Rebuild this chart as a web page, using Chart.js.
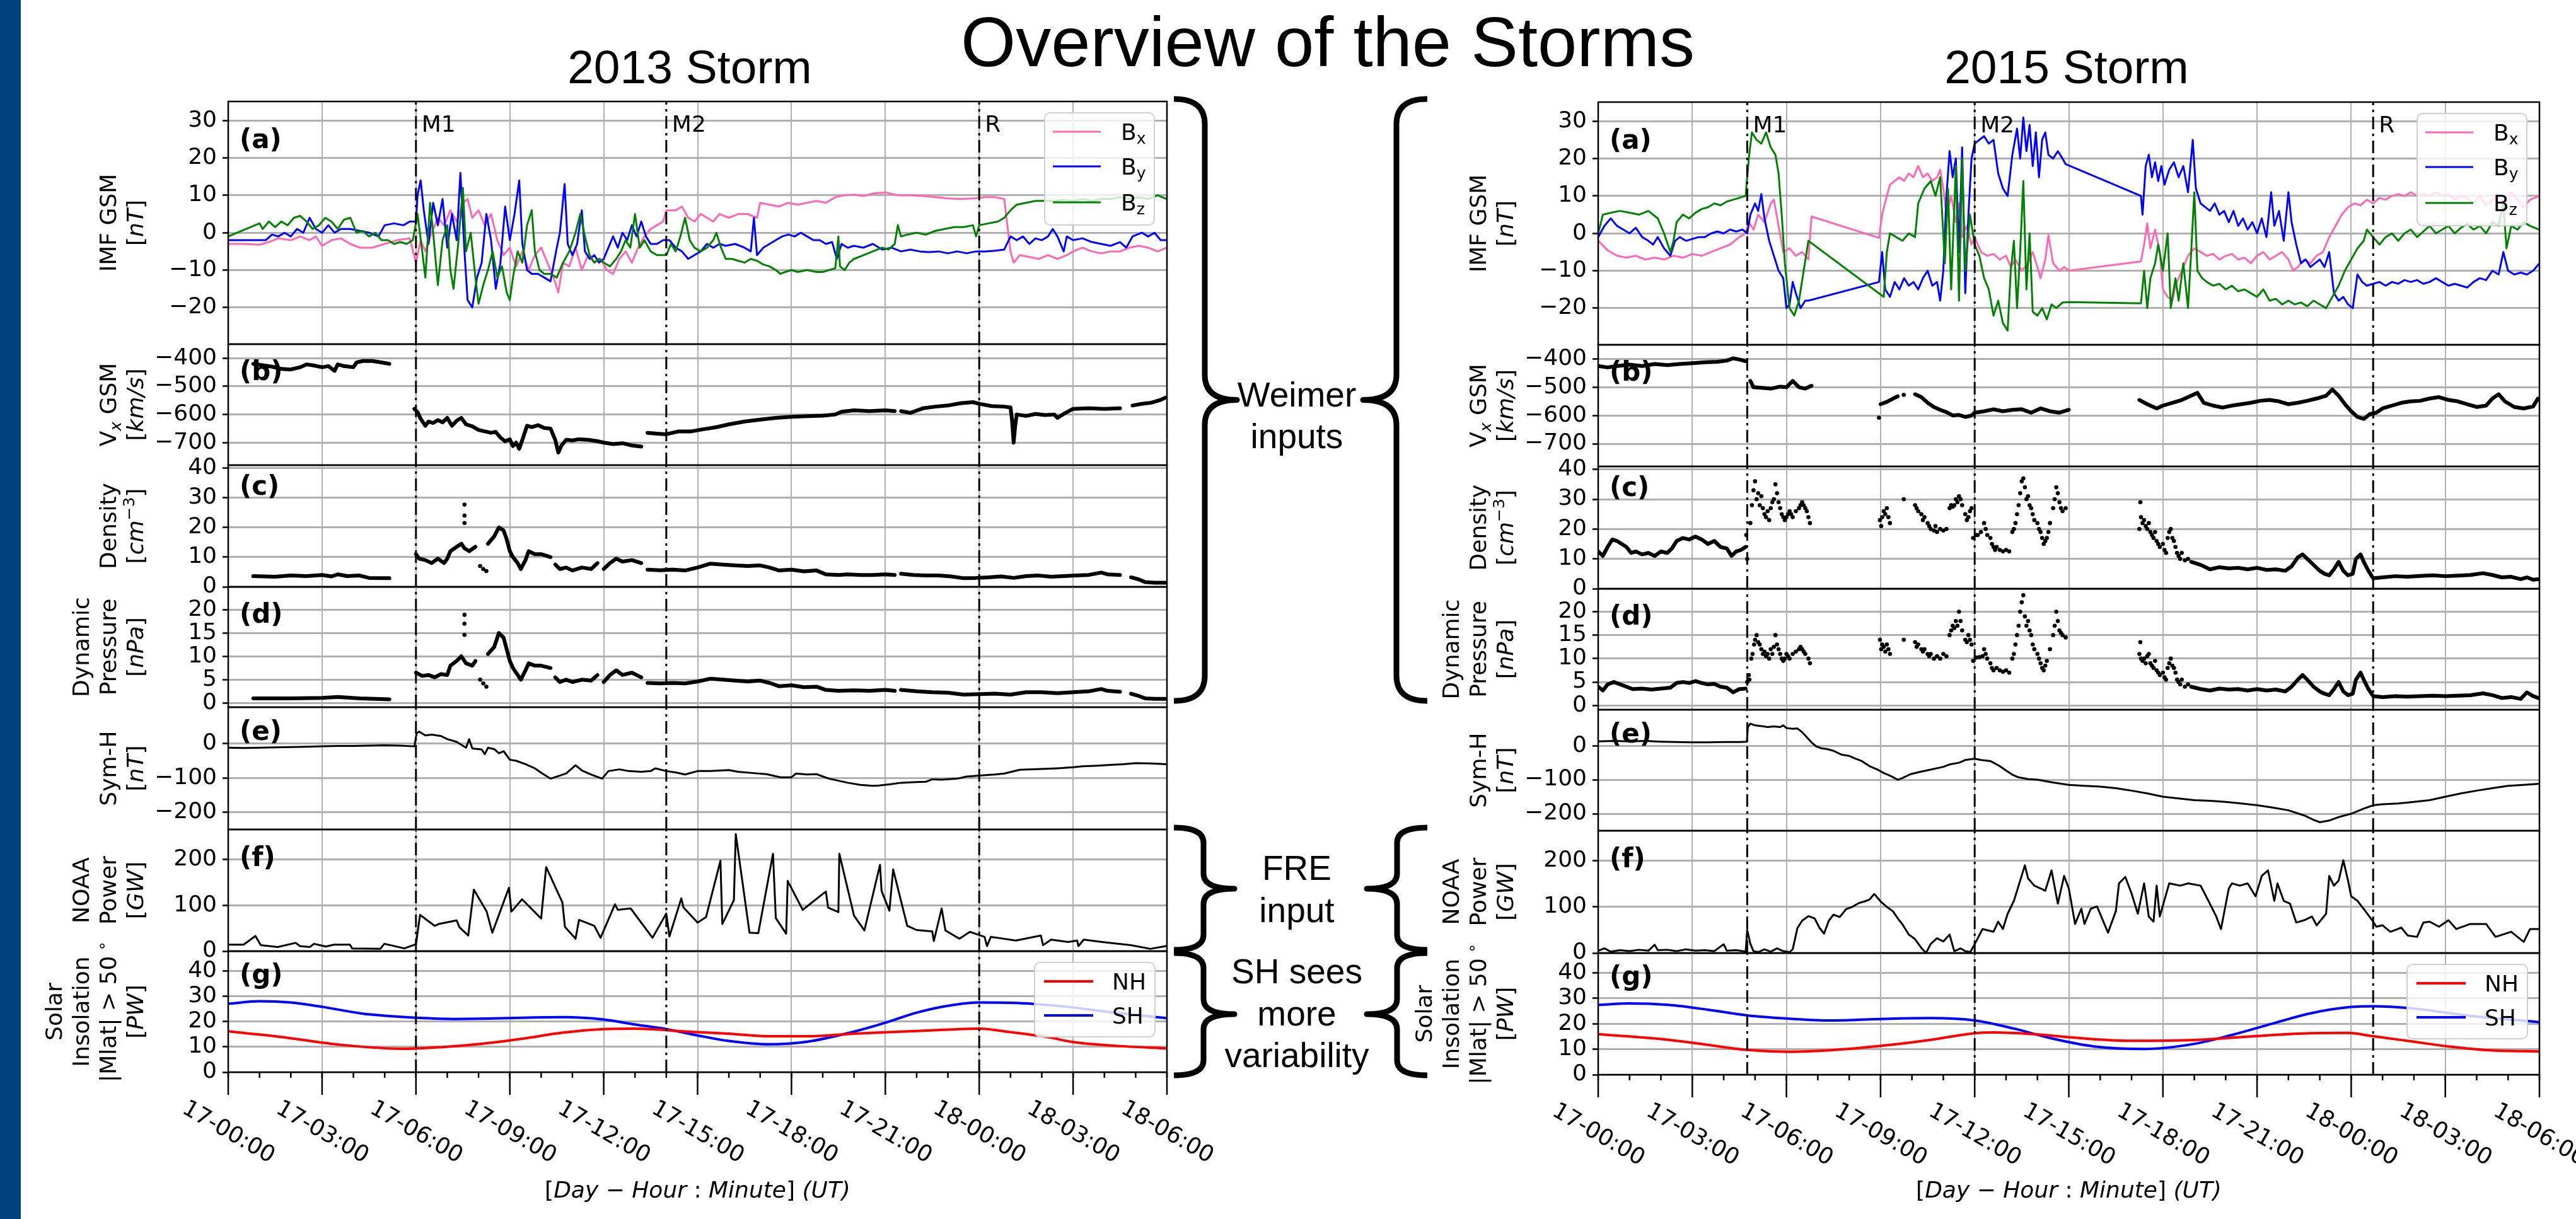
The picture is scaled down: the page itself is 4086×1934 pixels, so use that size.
<!DOCTYPE html>
<html>
<head>
<meta charset="utf-8">
<script src="https://cdn.jsdelivr.net/npm/chart.js@4.4.1/dist/chart.umd.min.js"></script>
<style>
  body { margin: 0; background: #fff; }
  #fig { position: relative; width: 4086px; height: 1934px; overflow: hidden; background: #fff; }
  #fig canvas { position: absolute; }
  #strip { position: absolute; left: 0; top: 0; width: 33px; height: 1934px; background: #00417f; }
  #ov { position: absolute; left: 0; top: 0; width: 4086px; height: 1934px; z-index: 5; }
</style>
</head>
<body>
<div id="fig">
  <div id="strip"></div>
  <svg id="ov" xmlns="http://www.w3.org/2000/svg" width="4086" height="1934"></svg>
</div>
<script>
// ---------- AXES / TICKS ----------
const xTickHours = [0, 3, 6, 9, 12, 15, 18, 21, 24, 27, 30];
const xTickLabels = ["17-00:00", "17-03:00", "17-06:00", "17-09:00", "17-12:00", "17-15:00",
  "17-18:00", "17-21:00", "18-00:00", "18-03:00", "18-06:00"];
const eventNames = ["M1", "M2", "R"];
const events13 = [6, 14, 24];
const events15 = [4.75, 12, 24.7];

const imfTicks = [-20, -10, 0, 10, 20, 30];
const vxTicks = [-700, -600, -500, -400];
const densTicks = [0, 10, 20, 30, 40];
const pdynTicks = [0, 5, 10, 15, 20];
const symhTicks = [-200, -100, 0];
const noaaTicks = [0, 100, 200];
const insolTicks = [0, 10, 20, 30, 40];

const imfRange = [-29.8, 35.1];
const vxRange = [-780, -350];
const densRange = [0, 41];
const pdynRange = [-0.9, 24.9];
const symhRange = [-250, 106];
const noaaRange = [0, 265];
const insolRange = [0, 47.8];

// ---------- 2013 STORM (hours after 17-00:00) ----------
const bx13 = [[0,-3],[0.5,-3],[1,-3.2],[1.3,-2.5],[1.6,-1.5],[2,-2],[2.3,-1],[2.6,-2],[2.8,-1],[3,-3.5],[3.3,-2],[3.6,-1.5],[3.9,-3],[4.2,-4],[4.6,-4],[5,-3],[5.4,-2],[5.8,-1.5],[6,-8],[6.15,-2],[6.3,-5],[6.5,0],[6.7,4],[6.9,2],[7.1,6],[7.3,3],[7.5,8],[7.65,9],[7.8,4],[8,6],[8.2,2],[8.4,5],[8.6,-2],[8.8,-6],[9,-4],[9.2,-9],[9.4,-5],[9.6,-10],[9.8,-6],[10,-4],[10.2,-8],[10.4,-12],[10.55,-16],[10.7,-8],[10.9,-9],[11.1,-4],[11.3,-10],[11.5,-6],[11.7,-8],[11.9,-7],[12.1,-10],[12.3,-11],[12.5,-7],[12.7,-5],[12.9,-8],[13.1,-4],[13.3,-1],[13.5,1],[13.7,2],[13.9,3],[14,6],[14.3,6],[14.5,7],[14.7,4],[14.9,3],[15.1,5],[15.3,4],[15.5,3],[15.7,5],[16,4],[16.3,5],[16.6,5],[16.9,4],[17,8],[17.3,7.5],[17.6,7],[17.9,8],[18.2,7.5],[18.5,8],[18.8,8.5],[19.1,8],[19.4,9.5],[19.7,10],[20,10.2],[20.3,9.8],[20.6,10.5],[21,10.8],[21.4,10],[21.8,10],[22.2,9.8],[22.6,9.5],[23,9.2],[23.4,9],[23.8,9.2],[24.2,9.5],[24.5,9.5],[24.8,9],[25,-5],[25.1,-8],[25.3,-6],[25.6,-6.5],[25.9,-7],[26.2,-6],[26.5,-7],[26.8,-6],[27,-5],[27.3,-4],[27.6,-5],[27.9,-5.5],[28.2,-5],[28.5,-5],[28.8,-4],[29.1,-3.5],[29.4,-4],[29.7,-5],[30,-4]];
const by13 = [[0,-2],[0.5,-2],[1,-2],[1.2,-2],[1.4,-0.5],[1.6,-1],[1.8,0],[2,-1],[2.2,1],[2.4,0],[2.6,4],[2.8,1],[3,0],[3.2,2],[3.4,0],[3.6,1],[3.9,1],[4.2,0.5],[4.5,0],[4.8,-1],[5,2],[5.3,2.5],[5.6,2],[5.8,3],[6,3],[6.05,10],[6.15,14],[6.25,6],[6.4,-3],[6.55,8],[6.7,2],[6.85,9],[7,-4],[7.15,5],[7.3,-2],[7.42,16],[7.55,-5],[7.65,-18],[7.8,-20],[7.95,-12],[8.1,-8],[8.25,5],[8.4,-2],[8.55,-15],[8.7,-8],[8.85,7],[9,-2],[9.15,5],[9.3,14],[9.4,-3],[9.55,-10],[9.7,-11],[9.9,-11],[10.1,-12],[10.3,-13],[10.5,-4],[10.6,0],[10.75,13],[10.85,-3],[11,-6],[11.15,-3],[11.3,6],[11.4,-5],[11.55,-7],[11.7,-6],[11.85,-8],[12,-7],[12.15,-4],[12.3,-1],[12.45,-4],[12.6,0],[12.75,-2],[12.9,2],[13.05,-1],[13.2,3],[13.35,-1],[13.5,-3],[13.7,-3],[13.9,-2],[14.1,-2],[14.3,-4],[14.5,-5],[14.7,-7],[14.9,-6],[15.1,-5],[15.3,-3],[15.5,-4],[15.7,-3],[15.9,-3.5],[16.2,-3],[16.5,-4],[16.7,-5],[16.8,4],[16.9,-6],[17.1,-4],[17.3,-3],[17.5,-2],[17.7,-1],[17.9,-0.5],[18.1,-1],[18.3,0],[18.5,-1],[18.7,-2],[18.9,-2],[19.1,-3],[19.3,-2.5],[19.45,-7],[19.6,-3],[19.8,-4],[20,-3.5],[20.3,-4],[20.6,-3],[20.9,-4.5],[21.2,-4],[21.5,-5],[21.8,-4.5],[22.1,-5],[22.4,-5.2],[22.7,-5],[23,-5.5],[23.3,-5],[23.6,-5.5],[23.9,-5],[24.2,-5],[24.5,-4.8],[24.8,-4.5],[25,-1],[25.2,-2],[25.4,-1],[25.6,-3],[25.8,-1.5],[26,-2],[26.2,-1],[26.35,1],[26.5,-1],[26.7,-5],[26.8,-1],[27,-2],[27.3,-1.5],[27.6,-2.5],[27.9,-3],[28.2,-3.5],[28.5,-2.5],[28.7,-4],[28.9,-1],[29.2,0],[29.4,-1],[29.6,0],[29.8,-2],[30,-2]];
const bz13 = [[0,-1],[1,2.5],[1.1,1],[1.3,3],[1.5,1.5],[1.7,3],[1.9,2],[2.1,4],[2.3,4.5],[2.5,3],[2.7,1],[2.9,2],[3.1,4],[3.3,3],[3.5,1],[3.7,3.5],[3.9,4],[4.1,0],[4.3,0.5],[4.5,-1],[4.7,0],[4.9,-2],[5.1,-2],[5.3,-3],[5.5,-2.5],[5.7,-3],[5.9,-2],[6.05,5],[6.2,-5],[6.3,-12],[6.45,8],[6.55,0],[6.7,-14],[6.85,-2],[7,2],[7.1,-10],[7.2,-15],[7.35,-3],[7.5,12],[7.6,-5],[7.75,0],[7.9,-12],[8,-19],[8.15,-14],[8.3,-10],[8.45,-5],[8.6,-12],[8.75,-9],[8.9,-16],[9,-18],[9.1,-12],[9.25,-5],[9.4,-8],[9.55,2],[9.7,6],[9.8,-5],[9.95,-10],[10.1,-11],[10.3,-11],[10.5,-12],[10.7,-8],[10.9,-5],[11.1,0],[11.25,5],[11.4,-1],[11.55,-6],[11.7,-8],[11.85,-7],[12,-8],[12.2,-9],[12.4,-7],[12.55,-5],[12.7,-2],[12.85,-4],[13,5],[13.15,-4],[13.3,-2],[13.5,-5],[13.7,-6],[13.9,-6],[14,-6],[14.15,-3],[14.3,-5],[14.45,-1],[14.6,4],[14.75,-2],[14.9,-4],[15.1,-5],[15.3,-4],[15.5,-2],[15.6,0],[15.75,-4],[15.9,-7],[16.1,-7],[16.3,-7.5],[16.5,-8],[16.7,-7],[16.9,-7.5],[17.1,-8.5],[17.3,-9],[17.5,-10],[17.65,-11],[17.8,-10.5],[18,-10],[18.2,-10.5],[18.5,-10],[18.8,-10.5],[19,-10.5],[19.2,-10],[19.4,-9.5],[19.5,-1],[19.55,-9],[19.7,-10],[19.85,-8],[20,-7],[20.3,-6],[20.6,-5],[20.9,-4],[21.1,-4.5],[21.3,-3],[21.4,2],[21.5,-1],[21.7,-0.5],[22,0],[22.3,-0.5],[22.6,0.5],[22.9,1],[23.2,1.5],[23.5,1.5],[23.8,2],[23.9,-1],[24,2],[24.3,2.5],[24.6,3],[24.8,4],[25,6],[25.2,7.5],[25.5,8],[25.8,8.5],[26.1,8.5],[26.4,8.5],[26.7,8.8],[27,8.5],[27.3,9],[27.6,8.5],[27.9,9],[28.2,9],[28.5,9.5],[28.8,9],[29.1,9.5],[29.4,9],[29.7,10],[30,9]];

const vx13 = [[0.8,-420],[1.1,-425],[1.4,-430],[1.7,-438],[2,-440],[2.3,-432],[2.5,-422],[2.7,-425],[3,-432],[3.2,-428],[3.4,-445],[3.5,-422],[3.7,-428],[4,-432],[4.1,-415],[4.3,-410],[4.6,-410],[4.9,-415],[5.15,-420],null,
  [5.95,-580],[6.05,-592],[6.15,-615],[6.3,-640],[6.4,-625],[6.55,-630],[6.7,-620],[6.85,-628],[7,-612],[7.15,-640],[7.3,-622],[7.45,-612],[7.6,-635],[7.8,-642],[8,-655],[8.2,-660],[8.4,-665],[8.55,-662],[8.7,-682],[8.85,-695],[9,-688],[9.1,-712],[9.2,-700],[9.3,-722],[9.4,-690],[9.55,-640],[9.7,-645],[9.9,-638],[10.1,-648],[10.3,-650],[10.45,-690],[10.55,-735],[10.65,-710],[10.8,-690],[11,-692],[11.2,-688],[11.5,-690],[11.8,-695],[12,-700],[12.3,-705],[12.6,-702],[12.9,-710],[13.2,-714],null,
  [13.4,-665],[13.7,-668],[14,-670],[14.4,-660],[14.8,-660],[15.2,-652],[15.6,-645],[16,-635],[16.5,-625],[17,-618],[17.5,-612],[18,-608],[18.5,-606],[19,-604],[19.4,-600],[19.6,-590],[20,-585],[20.5,-588],[21,-585],[21.3,-588],null,
  [21.5,-588],[21.8,-594],[22.2,-578],[22.6,-572],[23,-568],[23.4,-560],[23.8,-556],[24,-562],[24.4,-570],[24.8,-572],[25,-575],[25.05,-620],[25.1,-700],[25.15,-640],[25.2,-600],[25.5,-605],[25.8,-598],[26.1,-602],[26.4,-600],[26.5,-612],[26.7,-598],[27,-580],[27.5,-578],[28,-580],[28.5,-578],null,
  [28.9,-568],[29.2,-562],[29.5,-558],[29.8,-548],[29.95,-540]];
const dens13 = [[0.8,3.6],[1.5,3.4],[2,3.8],[2.5,3.6],[3,4],[3.3,3.5],[3.5,4.2],[3.8,3.6],[4.2,3.8],[4.5,3],[5.15,2.9],null,
  [6,11],[6.1,9.5],[6.3,9],[6.5,8],[6.7,9.5],[6.9,8],[7,9.5],[7.1,12],[7.3,13.5],[7.45,14.5],[7.55,13],[7.7,12],[7.9,13.5],null,
  [8.3,14.5],[8.5,17],[8.65,20],[8.8,19],[8.9,16],[9,12],[9.1,10],[9.25,8],[9.35,6],[9.5,9],[9.6,12],[9.8,11],[10,11],[10.3,10],null,
  [10.45,7.5],[10.6,6],[10.8,6.5],[11,5.5],[11.3,6.5],[11.6,6],[11.8,8],null,
  [12,6],[12.2,8],[12.4,9.5],[12.6,8.5],[12.9,9],[13.2,8],null,
  [13.4,5.8],[13.8,5.6],[14.2,5.8],[14.6,5.5],[15,6.5],[15.4,7.8],[15.8,7.5],[16.2,7.2],[16.6,7],[17,7.2],[17.3,6.5],[17.6,5.5],[18,5.8],[18.4,5.2],[18.8,5.5],[19.1,4.2],[19.5,4],[19.8,4.2],[20.2,4],[20.6,4],[21,4.2],[21.3,4],null,
  [21.5,4.4],[21.9,4],[22.3,3.8],[22.7,3.8],[23.1,3.5],[23.5,2.9],[23.9,3],[24.3,3.2],[24.7,3.5],[25.1,3],[25.5,3.6],[25.9,3.8],[26.3,3.4],[26.7,3.6],[27.1,3.8],[27.5,4],[27.9,4.8],[28.1,4.2],[28.5,4],null,
  [28.85,3.2],[29.1,2.5],[29.3,1.6],[29.6,1.4],[29.95,1.4]];
const dens13Dots = [[7.55,27.7],[7.55,24],[7.55,21.5],[8.05,7],[8.15,6],[8.25,5.3],[9.05,10.5]];
const pdyn13 = [[0.8,1],[2,1],[3,1.1],[3.5,1.3],[4.2,1],[5.15,0.8],null,
  [6,6.5],[6.2,5.8],[6.4,6],[6.6,5.5],[6.8,6.2],[7,6],[7.1,8],[7.3,9],[7.45,10],[7.6,8.5],[7.8,8],[7.9,9],null,
  [8.3,10.5],[8.5,12],[8.65,15],[8.8,14],[8.9,11.5],[9,9],[9.1,7.5],[9.25,6],[9.35,5],[9.5,7],[9.6,8.5],[9.8,8],[10,8],[10.3,7.5],null,
  [10.45,5.5],[10.6,4.5],[10.8,5],[11,4.5],[11.3,5],[11.6,4.8],[11.8,6],null,
  [12,4.5],[12.2,6],[12.4,7],[12.6,6],[12.9,6.5],[13.2,5.5],null,
  [13.4,4.3],[13.8,4.2],[14.2,4.3],[14.6,4.2],[15,4.6],[15.4,5.2],[15.8,5],[16.2,4.8],[16.6,4.6],[17,4.8],[17.3,4.3],[17.6,3.6],[18,3.8],[18.4,3.4],[18.8,3.5],[19.1,2.8],[19.5,2.6],[20,2.7],[20.5,2.6],[21,2.8],[21.3,2.6],null,
  [21.5,2.8],[22,2.5],[22.5,2.3],[23,2.2],[23.5,1.8],[24,1.9],[24.5,2],[25,1.8],[25.5,2.3],[26,2.3],[26.5,2.1],[27,2.3],[27.5,2.5],[27.9,3],[28.1,2.6],[28.5,2.4],null,
  [28.85,2],[29.1,1.5],[29.3,1],[29.6,0.9],[29.95,0.9]];
const pdyn13Dots = [[7.55,18.9],[7.55,17],[7.55,14.6],[8.05,5],[8.15,4.2],[8.25,3.5]];
const symh13 = [[0,-12],[0.5,-13],[1,-12],[1.5,-11],[2,-10],[2.5,-9],[3,-8],[3.5,-7],[4,-7],[4.5,-6],[5,-5],[5.5,-6],[5.95,-8],[6.02,30],[6.1,35],[6.3,24],[6.5,26],[6.8,22],[7,13],[7.3,5],[7.6,-12],[7.7,13],[7.8,-14],[8.1,-17],[8.2,-31],[8.3,-12],[8.5,-16],[8.65,-28],[8.8,-22],[9,-47],[9.2,-50],[9.5,-60],[9.8,-72],[10,-85],[10.3,-102],[10.5,-96],[10.8,-87],[11.1,-63],[11.3,-78],[11.6,-90],[11.95,-102],[12.15,-80],[12.5,-75],[12.8,-80],[13.2,-82],[13.5,-80],[13.65,-72],[14,-80],[14.3,-84],[14.6,-90],[15,-80],[15.4,-80],[16,-77],[16.3,-82],[16.8,-86],[17.2,-89],[17.65,-98],[18,-98],[18.15,-87],[18.5,-90],[18.8,-89],[19.2,-102],[19.5,-108],[19.8,-114],[20.2,-120],[20.6,-123],[20.8,-122],[21.2,-118],[21.5,-114],[22,-112],[22.3,-111],[22.5,-104],[22.8,-105],[23.3,-102],[23.6,-96],[24,-93],[24.5,-90],[24.8,-87],[25.3,-76],[26,-74],[26.5,-72],[27,-69],[27.3,-66],[27.8,-64],[28.2,-62],[28.6,-60],[29,-57],[29.5,-58],[30,-60]];
const noaa13 = [[0,14],[0.49,14],[0.87,33],[1.04,13],[1.58,9],[2.16,18],[2.29,11],[2.61,9],[2.74,16],[3.12,10],[3.38,14],[3.89,14],[3.96,6],[4.86,5],[4.99,16],[5.63,6],[5.95,14],[6,15],[6.13,79],[6.6,55],[6.72,59],[7.3,67],[7.39,52],[7.67,34],[7.85,134],[8.26,86],[8.44,40],[8.97,138],[9.05,86],[9.39,113],[10,71],[10.16,183],[10.68,106],[10.76,53],[11.1,27],[11.21,68],[11.7,55],[11.9,29],[12.36,102],[12.45,90],[12.86,93],[13.56,29],[14,82],[14.1,32],[14.48,115],[14.55,95],[15,62],[15.27,74],[15.73,197],[15.79,59],[16.16,111],[16.22,255],[16.66,40],[16.94,39],[17.41,212],[17.5,72],[17.83,38],[17.88,153],[18.36,90],[19.1,130],[19.17,95],[19.5,85],[19.53,212],[20,77],[20.33,45],[20.83,188],[20.88,131],[21.13,88],[21.25,178],[21.7,55],[22,46],[22.5,43],[22.55,22],[22.8,93],[22.92,45],[23.37,27],[23.7,42],[24.17,31],[24.25,11],[24.37,31],[24.59,29],[25.17,23],[25.97,34],[26.04,13],[26.3,25],[26.84,20],[27.13,23],[27.17,11],[27.34,25],[27.92,20],[28.84,13],[29.47,5],[29.97,11]];
const nh13 = [[0,16.1],[1.7,13.9],[3.6,10.8],[5.6,9.2],[6.85,9.9],[8.1,11.2],[9.4,13.2],[10.7,15.6],[12,17],[13,17.2],[14.7,16],[16,15.2],[17.3,14.2],[18.5,14.2],[20,15.2],[21.5,16],[23,16.8],[24,17.2],[25,15.8],[26.2,13.8],[27,11.9],[28.5,10.3],[30,9.4]];
const sh13 = [[0,27],[1,28],[2,27.5],[3,25.8],[4.3,23.1],[5,22.3],[6,21.5],[7.2,21],[8.5,21.2],[9.4,21.5],[10.7,21.7],[12,20.8],[12.9,19],[14,17],[15,14.5],[16,12.3],[17.3,11],[18.5,12],[20,16],[21,19.5],[22,23.5],[23,26.2],[24,27.5],[25.2,27.3],[26.8,25.8],[28.3,23.5],[30,21.3]];

// ---------- 2015 STORM ----------
const bx15 = [[0,-2],[0.3,-4.5],[0.6,-6],[0.9,-6.5],[1.2,-6],[1.5,-7],[1.8,-6.5],[2.1,-7],[2.4,-6],[2.7,-6.5],[3,-5.5],[3.3,-6],[3.6,-5],[3.9,-4],[4.2,-3],[4.5,-1],[4.7,0],[4.8,3],[4.95,1],[5.1,5],[5.3,3],[5.5,8],[5.6,9],[5.75,2],[5.9,-5],[6.1,-4],[6.3,-6],[6.5,-5],[6.7,-7],[6.8,4.5],[8.95,-1.2],[9.05,5],[9.2,10],[9.3,13],[9.45,14],[9.6,15],[9.75,14],[9.9,16],[10.05,15],[10.2,18],[10.35,15],[10.5,16],[10.65,14],[10.8,15],[10.9,17],[11,12],[11.1,5],[11.25,10],[11.4,3],[11.5,8],[11.6,-1],[11.75,2],[11.9,-3],[12,-1],[12.2,-5],[12.4,-6],[12.6,-5.5],[12.8,-7],[13,-6],[13.15,-9],[13.3,-7],[13.5,-10],[13.7,-8],[13.85,-5],[14,-9],[14.1,-12],[14.25,-7],[14.35,-0.5],[14.5,-8],[14.7,-10],[14.85,-9],[15,-10],[17.3,-7.5],[17.4,-3],[17.5,2.7],[17.6,-4],[17.75,1],[17.9,-5],[18,-15],[18.15,-17],[18.3,-18],[18.4,-14],[18.6,-10],[18.8,-6],[19,-4],[19.2,-5],[19.4,-6],[19.6,-5.5],[19.8,-7],[20,-6],[20.2,-5.5],[20.4,-7],[20.6,-6.5],[20.8,-8],[21,-6],[21.2,-5],[21.4,-7],[21.6,-6],[21.8,-5],[22,-7],[22.15,-10],[22.3,-9],[22.5,-7],[22.7,-8],[22.9,-6],[23.1,-5],[23.3,-1],[23.5,2],[23.7,5],[23.9,7],[24.1,8],[24.3,7.5],[24.5,9],[24.7,8],[24.9,9.5],[25.1,9],[25.3,10],[25.5,10.5],[25.7,10],[25.9,11],[26.1,10],[26.3,10.5],[26.5,10],[26.7,11],[26.9,10],[27.1,10.5],[27.3,9],[27.5,10],[27.7,9.5],[27.9,8],[28.1,10],[28.3,7.5],[28.5,9],[28.7,10],[28.9,8],[29.1,11],[29.3,9],[29.5,7],[29.7,9],[30,10]];
const by15 = [[0,-1],[0.2,2],[0.4,4],[0.6,2],[0.8,1],[1,0],[1.2,1.5],[1.4,-1],[1.6,-2],[1.75,-3],[1.9,-1],[2.1,-4],[2.3,-6],[2.45,-2],[2.6,-1],[2.8,-2],[3,-1.5],[3.2,-1],[3.4,-1],[3.6,0],[3.8,0.5],[4,0],[4.2,1],[4.4,0.5],[4.6,1],[4.75,0],[4.85,5],[5,8],[5.1,6],[5.2,10.5],[5.3,4],[5.45,-2],[5.6,-6],[5.75,-10],[5.9,-12],[6,-20],[6.1,-19],[6.2,-13],[6.3,-16],[6.45,-20],[6.6,-18],[6.7,-18],[8.95,-13],[9.05,-5],[9.15,-15],[9.3,-17],[9.45,-13],[9.6,-15],[9.75,-12],[9.9,-14],[10.05,-13],[10.2,-15],[10.35,-12],[10.5,-10],[10.65,-14],[10.8,-13],[10.9,-18],[11,-10],[11.1,10],[11.2,22],[11.3,15],[11.4,20],[11.5,-5],[11.6,23],[11.7,-16],[11.8,5],[11.9,20],[12,24],[12.15,25],[12.3,26],[12.45,24],[12.6,25],[12.75,16],[12.9,12],[13.05,10],[13.2,21],[13.35,28],[13.45,20],[13.55,31],[13.65,22],[13.75,29],[13.85,18],[13.95,27],[14.05,15],[14.15,25],[14.25,27],[14.35,21],[14.5,20],[14.65,22],[14.8,20],[14.9,18.5],[17.3,10],[17.35,5],[17.45,18],[17.55,21],[17.65,15],[17.75,19],[17.85,14],[17.95,18],[18.05,13],[18.2,17],[18.35,19],[18.5,15],[18.65,18],[18.8,11],[18.95,25],[19.05,12],[19.2,8],[19.35,7],[19.5,6],[19.65,8],[19.8,5],[19.95,6],[20.1,3],[20.25,6],[20.4,2],[20.55,4],[20.7,1],[20.85,3],[21,0],[21.15,4],[21.3,-1],[21.45,11],[21.55,2],[21.7,6],[21.85,-2],[22,11],[22.1,3],[22.25,-3],[22.4,-8],[22.55,-7],[22.7,-9],[22.85,-8],[23,-7],[23.15,-9],[23.3,-5],[23.45,-16],[23.6,-18],[23.75,-17],[23.9,-19],[24.05,-20],[24.2,-11],[24.35,-13],[24.5,-14],[24.7,-13.5],[24.9,-13],[25.1,-14],[25.3,-13],[25.5,-13.5],[25.7,-12.5],[25.9,-13],[26.1,-12.5],[26.3,-13.5],[26.5,-13],[26.7,-12],[26.9,-13],[27.1,-14],[27.3,-13.5],[27.5,-14],[27.7,-14.5],[27.9,-13],[28.1,-12],[28.3,-12.5],[28.5,-10],[28.7,-11],[28.85,-5],[29,-10],[29.2,-11],[29.4,-10.5],[29.6,-11],[29.8,-10],[30,-8]];
const bz15 = [[0,0],[0.15,5],[0.4,5.5],[0.7,6],[1,5.5],[1.3,5],[1.6,6],[1.9,4],[2.1,0],[2.3,-5],[2.4,-2],[2.5,3],[2.7,5],[2.9,4],[3.1,5.5],[3.3,6.5],[3.5,7],[3.7,8],[3.9,7.5],[4.1,8.5],[4.3,9],[4.5,9.5],[4.7,10],[4.8,20],[4.9,27],[5.05,25],[5.2,24],[5.35,27],[5.5,23],[5.65,21],[5.75,16],[5.85,5],[5.95,-8],[6.1,-20],[6.25,-22],[6.4,-18],[6.55,-10],[6.7,-2],[9.1,-17],[9.2,-5],[9.3,0],[9.5,-1],[9.7,-2],[9.9,0],[10.1,-1],[10.2,8],[10.4,12],[10.6,14],[10.75,10],[10.9,15],[11.05,-8],[11.15,12],[11.25,-15],[11.4,18],[11.5,-18],[11.6,20],[11.7,-10],[11.85,5],[12,-3],[12.15,-6],[12.3,-12],[12.45,-15],[12.6,-22],[12.75,-18],[12.9,-24],[13.05,-26],[13.15,-10],[13.25,-2],[13.35,-20],[13.45,-5],[13.55,14],[13.65,-15],[13.75,0],[13.85,-21],[14,-22],[14.15,-20],[14.3,-23],[14.45,-19],[14.6,-20],[14.8,-18.5],[15,-18.4],[17.3,-18.7],[17.4,-10],[17.5,-20],[17.6,-12],[17.75,-8],[17.85,-3],[18,-10],[18.15,0],[18.25,-20],[18.4,-12],[18.5,-18],[18.65,-8],[18.8,-20],[18.9,-5],[19,11],[19.1,-10],[19.25,-12],[19.4,-13],[19.6,-14],[19.8,-13.5],[20,-15],[20.2,-14],[20.4,-15.5],[20.6,-15],[20.8,-16],[21,-17],[21.2,-15],[21.4,-18],[21.6,-17.5],[21.8,-19],[22,-18],[22.2,-19],[22.4,-18.5],[22.6,-19.5],[22.8,-18],[23,-19],[23.2,-20],[23.4,-17],[23.6,-14],[23.8,-10],[24,-7],[24.2,-4],[24.4,-2],[24.5,1],[24.7,-1],[24.9,-3],[25.1,-1],[25.3,0],[25.5,-2],[25.7,0],[25.9,1],[26.1,-1],[26.3,0.5],[26.5,2],[26.7,0],[26.9,1],[27.1,2],[27.3,0],[27.5,1.5],[27.7,2.5],[27.9,1],[28.1,2],[28.3,0],[28.5,3],[28.7,2],[28.85,8],[28.95,-4],[29.1,2],[29.3,1],[29.5,3],[29.7,2],[30,1]];

const vx15 = [[0,-425],[0.3,-430],[0.6,-425],[1,-420],[1.4,-425],[1.8,-418],[2.2,-422],[2.6,-418],[3,-415],[3.4,-412],[3.8,-410],[4.1,-406],[4.3,-398],[4.5,-402],[4.7,-408],null,
  [4.85,-478],[4.95,-500],[5.2,-502],[5.5,-505],[5.8,-498],[6,-500],[6.2,-478],[6.4,-500],[6.6,-505],[6.8,-495],null,
  [9,-560],[9.2,-552],[9.4,-540],[9.55,-532],null,
  [10.1,-525],[10.3,-535],[10.5,-555],[10.7,-570],[10.9,-580],[11.1,-588],[11.3,-600],[11.5,-598],[11.7,-605],[11.9,-600],[12,-590],[12.3,-585],[12.6,-578],[12.9,-585],[13.2,-580],[13.5,-578],[13.8,-590],[14.1,-575],[14.4,-585],[14.7,-590],[15,-580],null,
  [17.25,-545],[17.5,-560],[17.8,-575],[18,-565],[18.3,-555],[18.6,-545],[18.9,-530],[19.1,-520],[19.3,-555],[19.6,-565],[19.9,-572],[20.2,-565],[20.5,-560],[20.8,-555],[21.1,-548],[21.4,-545],[21.7,-550],[22,-560],[22.3,-555],[22.6,-548],[22.9,-540],[23.2,-530],[23.4,-508],[23.6,-530],[23.8,-560],[24,-585],[24.2,-605],[24.4,-612],[24.6,-595],[24.8,-590],[25,-575],[25.3,-565],[25.6,-555],[25.9,-550],[26.2,-548],[26.5,-540],[26.8,-535],[27.1,-545],[27.4,-550],[27.7,-560],[28,-570],[28.3,-565],[28.5,-540],[28.7,-525],[28.9,-550],[29.2,-570],[29.5,-575],[29.8,-568],[29.95,-540]];
const vx15Dots = [[8.95,-608],[9.74,-527]];
const dens15 = [[0,12.5],[0.15,11],[0.3,14],[0.45,16.5],[0.6,16],[0.75,15],[0.9,14],[1.05,12],[1.2,12.5],[1.4,11.5],[1.6,12],[1.8,11],[2,12.5],[2.2,12],[2.35,13.5],[2.5,16],[2.7,17],[2.9,16.5],[3.1,17.5],[3.3,16.5],[3.5,15],[3.7,16],[3.9,14],[4.1,13.5],[4.25,11],[4.4,12.5],[4.55,13],[4.7,14],null,
  [18.9,9],[19.2,8],[19.5,6.5],[19.8,7.2],[20.1,6.8],[20.4,7],[20.7,6.5],[21,7],[21.3,6.3],[21.6,6.5],[21.9,6],[22.1,7.5],[22.3,10.5],[22.45,11.5],[22.6,10],[22.8,8],[23,6],[23.15,5],[23.3,4.5],[23.45,6.5],[23.6,9],[23.75,6],[23.9,4.5],[24.05,5],[24.15,10],[24.3,11.5],[24.4,9],[24.55,6],[24.7,3.5],[25,3.8],[25.4,4.2],[25.8,4],[26.2,4.3],[26.6,4.5],[27,4.2],[27.4,4.4],[27.8,4.6],[28.2,5.2],[28.5,4.6],[28.8,3.8],[29.1,4],[29.4,3.2],[29.6,3.8],[29.8,3],[30,3.2]];
const dens15Dots = [[4.72,18],[4.75,10],[4.85,22],[4.9,28],[4.95,33],[5,36],[5.05,30],[5.1,32],[5.15,28],[5.2,31],[5.25,27],[5.3,25],[5.35,24],[5.4,26],[5.45,23],[5.5,27],[5.55,29],[5.6,30],[5.65,35],[5.7,32],[5.75,29],[5.8,27],[5.85,25],[5.9,24],[5.95,23],[6,24],[6.05,25],[6.1,26],[6.15,25],[6.2,24],[6.3,26],[6.4,27],[6.45,28],[6.5,29],[6.55,28],[6.6,27],[6.65,26],[6.7,24],[6.75,22],
  [8.98,23],[9.02,21],[9.05,24],[9.1,26],[9.15,25],[9.2,27],[9.25,24],[9.3,22],[9.74,30],[10.1,28],[10.15,27],[10.2,26],[10.3,25],[10.35,23],[10.4,24],[10.5,22],[10.55,21],[10.6,20],[10.7,19.5],[10.75,21],[10.8,19],[10.9,20],[11,19.5],[11.1,20],[11.2,27],[11.25,28],[11.3,27.5],[11.35,28],[11.4,30],[11.45,29],[11.5,31],[11.55,30],[11.6,28],[11.7,25],[11.75,23],[11.8,24],[11.85,26],[11.9,27],[11.95,17],
  [12.05,18],[12.1,18],[12.2,19],[12.3,22],[12.35,20],[12.4,18],[12.5,17],[12.55,15],[12.6,14],[12.65,13],[12.7,14],[12.8,13],[12.9,12.5],[13,13],[13.1,12.5],[13.2,19],[13.25,20],[13.3,22],[13.35,25],[13.4,28],[13.45,32],[13.5,36],[13.55,37],[13.6,34],[13.65,30],[13.7,31],[13.75,28],[13.8,27],[13.85,25],[13.9,23],[14,22],[14.05,20],[14.1,19],[14.15,17],[14.2,15],[14.25,16],[14.3,17],[14.35,19],[14.4,22],[14.5,27],[14.55,30],[14.6,34],[14.65,32],[14.7,29],[14.75,27],[14.8,26],[14.9,27],
  [17.25,20],[17.28,29],[17.3,24],[17.35,22],[17.4,23],[17.45,21],[17.5,20],[17.55,22],[17.6,19],[17.65,18],[17.7,17],[17.75,19],[17.8,16],[17.85,15],[17.9,14],[18,15],[18.05,13],[18.1,12],[18.15,17],[18.2,19],[18.25,20],[18.3,17],[18.35,16],[18.4,14],[18.45,12],[18.5,11],[18.55,10],[18.6,12],[18.7,9.5],[18.8,10]];
const pdyn15 = [[0,4],[0.15,3.2],[0.3,4.5],[0.5,5],[0.7,4.5],[0.9,4],[1.1,3.5],[1.4,3.6],[1.7,3.4],[2,3.6],[2.3,3.8],[2.5,4.8],[2.7,5],[2.9,4.8],[3.1,5.2],[3.3,4.8],[3.5,4.5],[3.7,4.6],[3.9,4],[4.1,3.8],[4.3,2.8],[4.5,3.5],[4.7,3.6],null,
  [18.9,4],[19.2,3.5],[19.5,3.2],[19.8,3.6],[20.1,3.4],[20.4,3.5],[20.7,3.2],[21,3.5],[21.3,3.2],[21.6,3.4],[21.9,3],[22.1,4],[22.3,5.5],[22.45,6.5],[22.6,5.5],[22.8,4],[23,3],[23.15,2.5],[23.3,2.2],[23.45,3.5],[23.6,5],[23.75,3],[23.9,2.2],[24.05,2.5],[24.15,5.5],[24.3,7],[24.4,5.5],[24.55,3.5],[24.7,2],[25,1.8],[25.4,2],[25.8,1.9],[26.2,2],[26.6,2.1],[27,2],[27.4,2.1],[27.8,2.2],[28.2,2.6],[28.5,2.2],[28.8,1.6],[29.1,1.8],[29.4,1.4],[29.6,2.8],[29.8,2],[30,1.5]];
const pdyn15Dots = [[4.75,5],[4.8,6.5],[4.82,5.5],[4.88,10],[4.92,11],[4.97,13],[5,14],[5.05,15],[5.1,13.5],[5.15,13],[5.2,12],[5.25,11],[5.3,11.5],[5.35,10.5],[5.4,11],[5.45,10],[5.5,12],[5.55,11],[5.6,12.5],[5.65,15],[5.7,13],[5.75,12],[5.8,11],[5.85,10],[5.9,9.5],[5.95,10],[6,11],[6.05,10.5],[6.1,10],[6.2,11],[6.3,11.5],[6.4,12],[6.45,12.5],[6.5,12],[6.55,11.5],[6.6,11],[6.7,10],[6.75,9],
  [8.98,14],[9.02,12],[9.05,13],[9.1,12.5],[9.15,11.5],[9.2,13],[9.25,12],[9.3,11],[9.74,14],[10.1,13.5],[10.15,12.5],[10.2,13],[10.3,12],[10.35,11.5],[10.4,12],[10.5,11],[10.55,10.5],[10.6,11],[10.7,10],[10.8,10.5],[10.9,10],[11,11],[11.1,10.5],[11.2,15],[11.25,16],[11.3,17],[11.35,16.5],[11.4,18],[11.45,17],[11.5,20],[11.55,18],[11.6,16],[11.7,14],[11.75,13.5],[11.8,15],[11.85,14],[11.9,13],[11.95,9.5],
  [12.05,10.2],[12.15,10.3],[12.25,10.5],[12.3,12],[12.35,11],[12.4,10],[12.5,9],[12.55,8],[12.6,7.5],[12.7,8],[12.8,7.5],[12.9,7.2],[13,7.5],[13.1,7],[13.2,10],[13.25,11],[13.3,13],[13.35,15],[13.4,17],[13.45,20],[13.5,22],[13.55,23.5],[13.6,19],[13.65,17],[13.7,18],[13.75,16],[13.8,15],[13.85,13],[13.9,12],[14,11],[14.05,10],[14.1,9],[14.15,8],[14.2,7.5],[14.25,8.5],[14.3,9.5],[14.4,12],[14.5,15],[14.55,17],[14.6,20],[14.65,18],[14.7,16],[14.75,15.5],[14.8,15],[14.9,14.5],
  [17.25,11],[17.28,13.5],[17.3,10],[17.35,9.5],[17.4,10],[17.45,9],[17.5,10.5],[17.55,11],[17.6,9],[17.65,8.5],[17.7,8],[17.75,9.5],[17.8,7.5],[17.85,7],[17.9,6.5],[18,7],[18.05,6],[18.1,5.5],[18.15,8],[18.2,9],[18.25,10],[18.3,8.5],[18.35,8],[18.4,7],[18.45,5.5],[18.5,5],[18.55,4.5],[18.6,5.5],[18.7,4],[18.8,4.5]];
const symh15 = [[0,13],[0.5,14],[1,13],[1.5,14],[2,12],[2.5,11],[3,10],[3.5,10],[4,11],[4.5,11],[4.74,12],[4.77,55],[4.85,65],[5,60],[5.2,58],[5.4,55],[5.6,57],[5.8,55],[5.9,60],[6,52],[6.2,50],[6.35,51],[6.5,40],[6.65,25],[6.8,10],[6.95,-2],[7.1,-7],[7.3,-10],[7.5,-15],[7.75,-26],[8,-30],[8.2,-38],[8.4,-45],[8.65,-60],[8.9,-70],[9.1,-80],[9.3,-88],[9.55,-100],[9.7,-95],[9.94,-84],[10.2,-78],[10.6,-70],[11,-62],[11.2,-55],[11.5,-50],[11.7,-42],[12,-38],[12.2,-42],[12.5,-45],[12.8,-60],[13,-73],[13.2,-85],[13.4,-93],[13.7,-98],[14,-100],[14.5,-108],[15,-115],[15.5,-118],[16,-120],[16.5,-125],[17,-132],[17.5,-140],[18,-150],[18.5,-155],[19,-160],[19.5,-162],[20,-165],[20.5,-170],[21,-175],[21.5,-182],[22,-190],[22.5,-205],[22.8,-218],[23,-225],[23.3,-220],[23.6,-210],[24,-200],[24.4,-185],[24.7,-175],[25,-172],[25.5,-170],[26,-165],[26.5,-160],[27,-150],[27.5,-140],[28,-132],[28.5,-125],[29,-118],[29.5,-115],[30,-112]];
const noaa15 = [[0,5],[0.2,10],[0.4,3],[0.7,6],[1,4],[1.3,7],[1.6,5],[1.8,18],[1.9,6],[2.2,7],[2.5,4],[2.8,8],[3.1,5],[3.4,6],[3.7,4],[4,19],[4.1,5],[4.4,6],[4.7,3],[4.75,50],[4.85,20],[4.95,4],[5.1,2],[5.3,8],[5.5,3],[5.7,10],[5.9,4],[6.1,2],[6.2,8],[6.35,54],[6.5,70],[6.7,80],[6.9,75],[7.05,55],[7.2,42],[7.35,70],[7.5,83],[7.7,78],[7.9,95],[8.1,100],[8.3,108],[8.5,112],[8.65,116],[8.8,128],[9,112],[9.2,100],[9.4,90],[9.55,75],[9.7,62],[9.9,40],[10.1,30],[10.3,11],[10.45,0],[10.6,20],[10.8,32],[11,25],[11.2,40],[11.35,4],[11.55,10],[11.7,4],[11.86,2],[12,19],[12.25,52],[12.6,46],[12.75,68],[12.9,52],[13.05,85],[13.25,113],[13.4,146],[13.6,190],[13.7,162],[13.9,146],[14.1,140],[14.25,135],[14.45,179],[14.65,107],[14.85,167],[15,140],[15.2,63],[15.4,96],[15.5,63],[15.7,96],[15.9,101],[16.25,44],[16.5,91],[16.6,151],[16.8,165],[17,129],[17.2,85],[17.4,151],[17.55,79],[17.7,68],[17.8,146],[17.9,79],[18.2,151],[18.55,146],[18.8,151],[19.2,146],[19.45,113],[19.7,79],[19.85,52],[20.1,140],[20.2,151],[20.45,146],[20.7,151],[20.95,123],[21.15,167],[21.35,179],[21.55,113],[21.65,151],[21.85,113],[22.05,107],[22.25,66],[22.5,71],[22.75,79],[22.9,60],[23.2,85],[23.3,167],[23.45,146],[23.6,157],[23.75,201],[23.9,157],[24,123],[24.2,113],[24.45,91],[24.7,68],[24.8,57],[25,60],[25.25,46],[25.6,55],[25.8,38],[26.1,35],[26.3,66],[26.5,68],[26.8,57],[27.1,71],[27.35,52],[27.8,63],[28.3,63],[28.6,35],[29.1,46],[29.5,24],[29.7,52],[30,52]];
const nh15 = [[0,15.9],[2.24,13.7],[3.5,11.7],[4.75,9.7],[6.1,9],[7.4,9.6],[9.3,11.7],[10.6,13.7],[12,16.3],[12.6,16.6],[13.9,15.9],[15.1,14.6],[17,13.3],[19,13.6],[20.9,15.1],[22.7,16.3],[23.9,16.4],[24.7,15.1],[25.9,13.1],[27.1,11.1],[28.4,9.6],[30,9.1]];
const sh15 = [[0,27.4],[1,28],[2.24,27.4],[3.5,25.5],[4.75,23.3],[6.1,22],[7.4,21.3],[9.3,22],[10.6,22.2],[12,21.3],[13.25,18.1],[14.5,14.1],[15.8,11.1],[17.4,10.1],[19,12.1],[20.2,15.6],[21.5,20.1],[22.7,24.1],[24,26.6],[24.7,26.9],[25.9,26.1],[27.8,23.1],[30,20.6]];

// ---------- LAYOUT ----------
const COLS = [
  { left: 362, right: 1851, tops: [161, 546, 738, 931, 1122, 1316, 1509, 1701] },
  { left: 2535, right: 4028, tops: [162, 547, 740, 934, 1126, 1318, 1512, 1705] }
];
const LM = 340, PAD = 32, PAD_R_LAST = 150;
const GRID = "#b0b0b0";
const FONT = "DejaVu Sans";
const tagDy = [74, 57, 47, 57, 52, 58, 51];
const tags = ["(a)", "(b)", "(c)", "(d)", "(e)", "(f)", "(g)"];

function fmtNum(v) { return v < 0 ? "\u2212" + Math.abs(v) : String(v); }

function toXY(arr) {
  const out = [];
  arr.forEach((p, i) => {
    if (p === null) out.push({ x: arr[i - 1][0] + 0.01, y: null });
    else out.push({ x: p[0], y: p[1] });
  });
  return out;
}
function lineDS(arr, color, width, order, label) {
  return { label, data: toXY(arr), borderColor: color, borderWidth: width, pointRadius: 0,
    fill: false, tension: 0, order, borderJoinStyle: "round", borderCapStyle: "round" };
}
function dotDS(arr) {
  return { data: toXY(arr), showLine: false, pointRadius: 3.3, pointBackgroundColor: "#000",
    pointBorderWidth: 0, order: 6 };
}
function smoothDS(arr, color, label) {
  return { label, data: toXY(arr), borderColor: color, borderWidth: 4, pointRadius: 0,
    cubicInterpolationMode: "monotone", order: 2 };
}
function eventDS(t, yr) {
  return { data: [{ x: t, y: yr[0] }, { x: t, y: yr[1] }], borderColor: "#000", borderWidth: 3,
    borderDash: [20, 7, 4, 7], pointRadius: 0, order: 0 };
}

// ---------- PLUGINS ----------
const framePlugin = {
  id: "frame",
  afterDatasetsDraw(chart) {
    const { ctx, chartArea: a } = chart;
    ctx.save();
    ctx.strokeStyle = "#000";
    ctx.lineWidth = 2.5;
    ctx.strokeRect(a.left, a.top, a.right - a.left, a.bottom - a.top);
    ctx.restore();
  }
};

const decorPlugin = {
  id: "decor",
  afterDatasetsDraw(chart, args, o) {
    const { ctx, chartArea: a, scales: { x } } = chart;
    ctx.save();
    ctx.fillStyle = "#000";
    // panel tag
    ctx.font = "bold 42px '" + FONT + "'";
    ctx.textAlign = "left";
    ctx.textBaseline = "alphabetic";
    ctx.fillText(o.tag, a.left + 18, a.top + o.tagDy);
    // event names
    if (o.events) {
      ctx.font = "36px '" + FONT + "'";
      o.events.forEach((t, i) => ctx.fillText(eventNames[i], x.getPixelForValue(t) + 9, a.top + 48));
    }
    // legend
    if (o.legend) {
      const L = o.legend;
      const x0 = a.right - L.boxL, x1 = a.right - L.boxR, y0 = a.top + L.boxT, y1 = a.top + L.boxB;
      ctx.beginPath();
      ctx.roundRect(x0, y0, x1 - x0, y1 - y0, 9);
      ctx.fillStyle = "rgba(255,255,255,0.8)";
      ctx.fill();
      ctx.strokeStyle = "#d0d0d0";
      ctx.lineWidth = 2;
      ctx.stroke();
      L.items.forEach((it, i) => {
        const ry = a.top + L.rows[i];
        ctx.strokeStyle = it.color;
        ctx.lineWidth = it.width;
        ctx.beginPath();
        ctx.moveTo(a.right - L.hL, ry);
        ctx.lineTo(a.right - L.hR, ry);
        ctx.stroke();
        ctx.fillStyle = "#000";
        ctx.font = "36px '" + FONT + "'";
        ctx.fillText(it.text, a.right - L.tx, ry + 13);
        if (it.sub) {
          const w = ctx.measureText(it.text).width;
          ctx.font = "25px '" + FONT + "'";
          ctx.fillText(it.sub, a.right - L.tx + w, ry + 19);
        }
      });
    }
    ctx.restore();
  },
  afterDraw(chart, args, o) {
    if (!o.xAxis) return;
    const { ctx, chartArea: a, scales: { x } } = chart;
    ctx.save();
    ctx.strokeStyle = "#000";
    ctx.lineWidth = 2.5;
    for (let h = 0; h <= 30; h++) {
      const px = x.getPixelForValue(h);
      ctx.beginPath();
      ctx.moveTo(px, a.bottom);
      ctx.lineTo(px, a.bottom + 9);
      ctx.stroke();
    }
    ctx.font = "36px '" + FONT + "'";
    ctx.fillStyle = "#000";
    ctx.textAlign = "center";
    ctx.textBaseline = "middle";
    xTickHours.forEach((h, i) => {
      const px = x.getPixelForValue(h);
      ctx.beginPath();
      ctx.moveTo(px, a.bottom);
      ctx.lineTo(px, a.bottom + 36);
      ctx.stroke();
      ctx.save();
      ctx.translate(px, a.bottom + 96);
      ctx.rotate(30 * Math.PI / 180);
      ctx.fillText(xTickLabels[i], 0, 0);
      ctx.restore();
    });
    ctx.restore();
  }
};

const legendIMF = { boxL: 194, boxR: 20, boxT: 18, boxB: 196, rows: [48, 103, 160], hL: 181, hR: 105, tx: 73,
  items: [{ text: "B", sub: "x", color: "hotpink", width: 3 }, { text: "B", sub: "y", color: "#0000ff", width: 3 },
          { text: "B", sub: "z", color: "#008000", width: 3 }] };
const legendIns = { boxL: 210, boxR: 19, boxT: 18, boxB: 136, rows: [48, 102], hL: 195, hR: 117, tx: 87,
  items: [{ text: "NH", color: "#ff0000", width: 4 }, { text: "SH", color: "#0000ff", width: 4 }] };

// ---------- CHART BUILDER ----------
const fig = document.getElementById("fig");
function makePanel(ci, p, datasets, ticks, range, extra) {
  const col = COLS[ci];
  const top = col.tops[p], bot = col.tops[p + 1];
  const last = p === 6;
  const padB = last ? 1934 - bot : PAD;
  const padR = last ? PAD_R_LAST : PAD;
  const cv = document.createElement("canvas");
  cv.width = col.right - col.left + LM + padR;
  cv.height = bot - top + PAD + padB;
  cv.style.left = (col.left - LM) + "px";
  cv.style.top = (top - PAD) + "px";
  fig.appendChild(cv);
  const ev = ci === 0 ? events13 : events15;
  ev.forEach(t => datasets.push(eventDS(t, range)));
  new Chart(cv, {
    type: "line",
    data: { datasets },
    options: {
      responsive: false, animation: false, devicePixelRatio: 1, events: [],
      layout: { padding: { left: 0, right: padR, top: PAD, bottom: padB } },
      plugins: {
        legend: { display: false }, tooltip: { enabled: false },
        decor: Object.assign({ tag: tags[p], tagDy: tagDy[p] }, extra || {})
      },
      scales: {
        x: {
          type: "linear", min: 0, max: 30,
          afterBuildTicks: s => { s.ticks = xTickHours.map(v => ({ value: v })); },
          afterFit: s => { s.height = 0; },
          ticks: { display: false },
          grid: { color: GRID, lineWidth: 2, drawTicks: false },
          border: { display: false }
        },
        y: {
          type: "linear", min: range[0], max: range[1],
          afterBuildTicks: s => { s.ticks = ticks.map(v => ({ value: v })); },
          afterFit: s => { s.width = LM; },
          ticks: { font: { family: FONT, size: 36 }, color: "#000", padding: 9, callback: v => fmtNum(v) },
          grid: { color: GRID, lineWidth: 3, tickLength: 9, tickColor: "#000", tickWidth: 2.5 },
          border: { display: false }
        }
      }
    },
    plugins: [framePlugin, decorPlugin]
  });
}

function buildColumn(ci, S) {
  makePanel(ci, 0, [lineDS(S.bx, "hotpink", 3, 3, "Bx"), lineDS(S.by, "#0000ff", 3, 2, "By"), lineDS(S.bz, "#008000", 3, 1, "Bz")],
    imfTicks, imfRange, { events: ci === 0 ? events13 : events15, legend: legendIMF });
  makePanel(ci, 1, [lineDS(S.vx, "#000", 6, 5), dotDS(S.vxDots)], vxTicks, vxRange);
  makePanel(ci, 2, [lineDS(S.dens, "#000", 6, 5), dotDS(S.densDots)], densTicks, densRange);
  makePanel(ci, 3, [lineDS(S.pdyn, "#000", 6, 5), dotDS(S.pdynDots)], pdynTicks, pdynRange);
  makePanel(ci, 4, [lineDS(S.symh, "#000", 3, 3)], symhTicks, symhRange);
  makePanel(ci, 5, [lineDS(S.noaa, "#000", 3, 3)], noaaTicks, noaaRange);
  makePanel(ci, 6, [smoothDS(S.nh, "#ff0000", "NH"), smoothDS(S.sh, "#0000ff", "SH")], insolTicks, insolRange,
    { legend: legendIns, xAxis: true });
}

buildColumn(0, { bx: bx13, by: by13, bz: bz13, vx: vx13, vxDots: [], dens: dens13, densDots: dens13Dots,
  pdyn: pdyn13, pdynDots: pdyn13Dots, symh: symh13, noaa: noaa13, nh: nh13, sh: sh13 });
buildColumn(1, { bx: bx15, by: by15, bz: bz15, vx: vx15, vxDots: vx15Dots, dens: dens15, densDots: dens15Dots,
  pdyn: pdyn15, pdynDots: pdyn15Dots, symh: symh15, noaa: noaa15, nh: nh15, sh: sh15 });

// ---------- TEXT OVERLAY (titles, labels, braces) ----------
const yLabelLines = [
  ["IMF GSM", "[<tspan font-style='italic'>nT</tspan>]"],
  ["V<tspan dy='8' font-size='25' font-style='italic'>x</tspan><tspan dy='-8'> GSM</tspan>", "[<tspan font-style='italic'>km/s</tspan>]"],
  ["Density", "[<tspan font-style='italic'>cm</tspan><tspan dy='-14' font-size='25'>\u22123</tspan><tspan dy='14'>]</tspan>"],
  ["Dynamic", "Pressure", "[<tspan font-style='italic'>nPa</tspan>]"],
  ["Sym-H", "[<tspan font-style='italic'>nT</tspan>]"],
  ["NOAA", "Power", "[<tspan font-style='italic'>GW</tspan>]"],
  ["Solar", "Insolation", "|Mlat| &gt; 50<tspan dy='-14' font-size='25'> \u2218</tspan>", "[<tspan font-style='italic'>PW</tspan>]"]
];

let svg = "";
const sans = "font-family=\"'Liberation Sans', Arial, sans-serif\"";
const dj = "font-family=\"'DejaVu Sans'\"";
svg += `<text x="2106" y="105" ${sans} font-size="112" text-anchor="middle">Overview of the Storms</text>`;
svg += `<text x="1094" y="132" ${sans} font-size="75" text-anchor="middle">2013 Storm</text>`;
svg += `<text x="3278" y="132" ${sans} font-size="75" text-anchor="middle">2015 Storm</text>`;

COLS.forEach(col => {
  yLabelLines.forEach((lines, p) => {
    const cy = (col.tops[p] + col.tops[p + 1]) / 2;
    const n = lines.length;
    lines.forEach((ln, k) => {
      const bx = col.left - 135 - (n - 1 - k) * 43;
      svg += `<text transform="translate(${bx},${cy}) rotate(-90)" ${dj} font-size="36" text-anchor="middle">${ln}</text>`;
    });
  });
  const cx = (col.left + col.right) / 2;
  svg += `<text x="${cx}" y="1900" ${dj} font-size="36" text-anchor="middle">[<tspan font-style="italic">Day</tspan> \u2212 <tspan font-style="italic">Hour</tspan> : <tspan font-style="italic">Minute</tspan>] <tspan font-style="italic">(UT)</tspan></text>`;
});

const notes = [["Weimer", 645], ["inputs", 711], ["FRE", 1396], ["input", 1463], ["SH sees", 1560], ["more", 1627], ["variability", 1693]];
notes.forEach(([t, y]) => { svg += `<text x="2057" y="${y}" ${sans} font-size="55" text-anchor="middle">${t}</text>`; });

function brace(xEnd, xV, xTip, y0, y1, r) {
  const ym = (y0 + y1) / 2;
  return `<path d="M${xEnd},${y0} Q${xV},${y0} ${xV},${y0 + r} L${xV},${ym - r} Q${xV},${ym} ${xTip},${ym} Q${xV},${ym} ${xV},${ym + r} L${xV},${y1 - r} Q${xV},${y1} ${xEnd},${y1}"/>`;
}
svg += `<g fill="none" stroke="#000" stroke-width="9" stroke-linejoin="round">`;
svg += brace(1862, 1911, 1962, 157, 1112, 40) + brace(2264, 2215, 2162, 157, 1112, 40);
svg += brace(1862, 1909, 1958, 1313, 1507, 24) + brace(2264, 2216, 2168, 1313, 1507, 24);
svg += brace(1862, 1909, 1958, 1512, 1706, 24) + brace(2264, 2216, 2168, 1512, 1706, 24);
svg += `</g>`;
document.getElementById("ov").innerHTML = svg;
</script>
</body>
</html>
